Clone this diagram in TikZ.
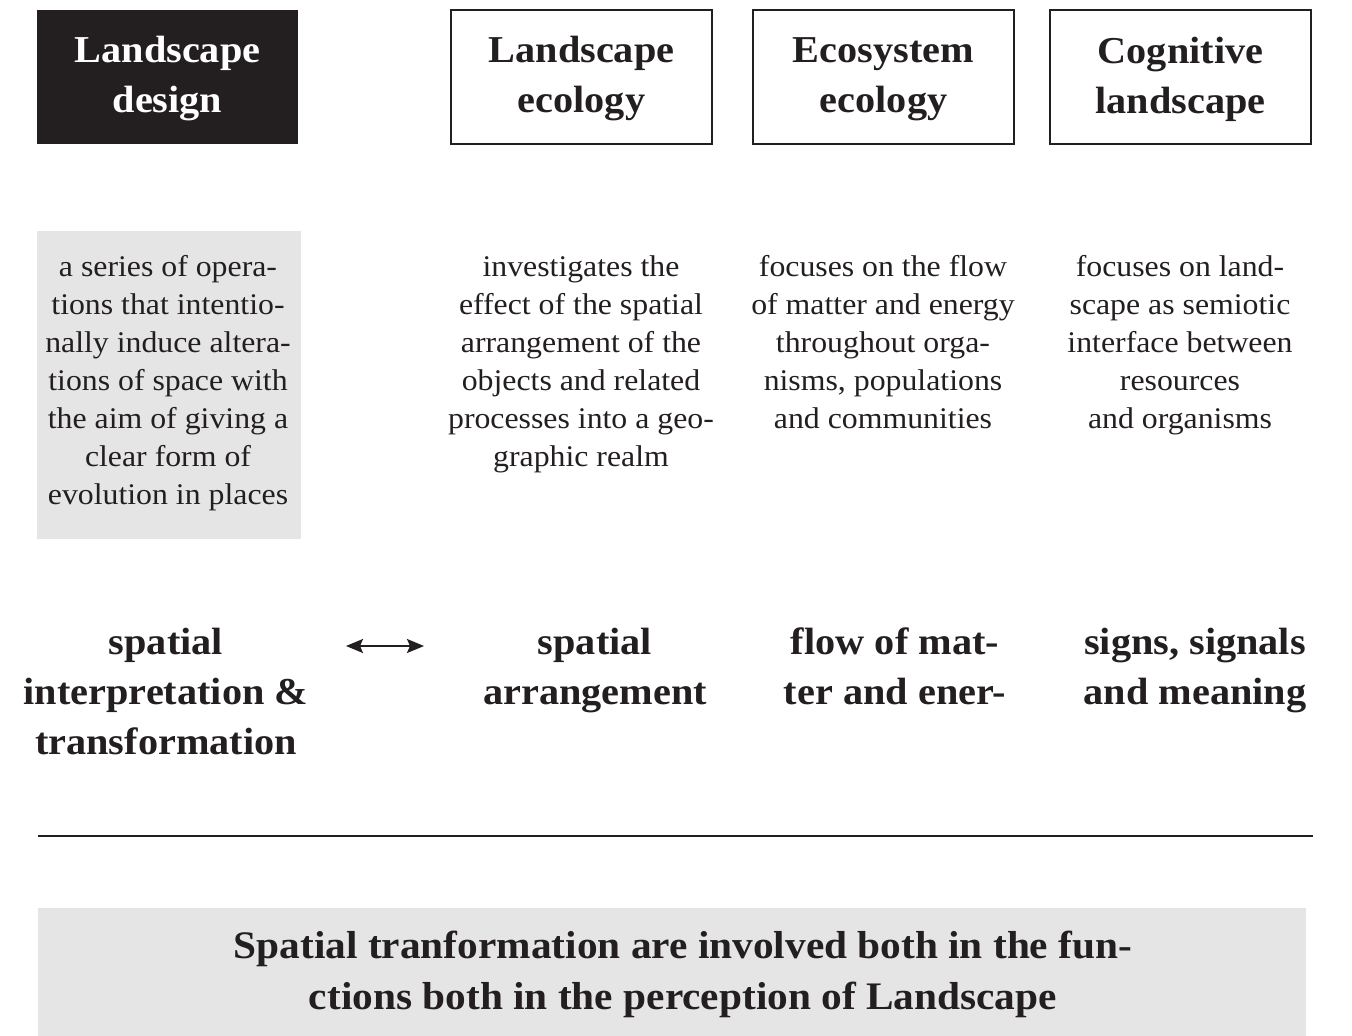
\documentclass[tikz,border=0pt]{standalone}
\usepackage{fontspec}
\setmainfont{Liberation Serif}
\newfontfamily\widefont[FakeStretch=1.06]{Liberation Serif}
\usetikzlibrary{arrows.meta}
\definecolor{ink}{HTML}{231F20}
\definecolor{panel}{HTML}{E5E5E5}
\begin{document}
\begin{tikzpicture}[x=1pt,y=-1pt,
  headframe/.style={minimum width=261pt,minimum height=134pt,inner sep=0pt},
  headtext/.style={align=center,inner sep=0pt,font=\widefont\fontsize{38}{50}\selectfont\bfseries,text=ink},
  desc/.style={align=center,inner sep=0pt,font=\widefont\fontsize{30}{38}\selectfont,text=ink},
  key/.style={align=center,inner sep=0pt,font=\widefont\fontsize{38}{50}\selectfont\bfseries,text=ink},
  line/.style={ink,line width=1.4pt},
  twoway/.style={ink,line width=1.6pt,>={Stealth[length=17pt,width=14pt,inset=3pt]},<->}]
\useasboundingbox (0,0) rectangle (1352,1036);
% headers
\node[headframe,fill=ink] (h1) at (167.5,77) {};
\node[headframe,draw=ink,line width=1.5pt] (h2) at (581.5,77) {};
\node[headframe,draw=ink,line width=1.5pt] (h3) at (883.5,77) {};
\node[headframe,draw=ink,line width=1.5pt] (h4) at (1180.5,77) {};
\node[headtext,text=white] (t1) at (167.5,79) {Landscape\\design};
\node[headtext] (t2) at (581.5,79) {Landscape\\ecology};
\node[headtext] (t3) at (883.5,79) {Ecosystem\\ecology};
\node[headtext] (t4) at (1180.5,79) {Cognitive\\landscape};
% description panel
\node[fill=panel,minimum width=264pt,minimum height=308pt,inner sep=0pt] (p1) at (168.5,385) {};
\node[desc,anchor=north] (d1) at (168,255) {a series of opera-\\tions that intentio-\\nally induce altera-\\tions of space with\\the aim of giving a\\clear form of\\evolution in places};
\node[desc,anchor=north] (d2) at (581,255) {investigates the\\effect of the spatial\\arrangement of the\\objects and related\\processes into a geo-\\graphic realm};
\node[desc,anchor=north] (d3) at (883,255) {focuses on the flow\\of matter and energy\\throughout orga-\\nisms, populations\\and communities};
\node[desc,anchor=north] (d4) at (1180,255) {focuses on land-\\scape as semiotic\\interface between\\resources\\and organisms};
% key concepts
\node[key,anchor=north] (k1) at (166,628) {spatial\\interpretation \&\\transformation};
\node[key,anchor=north] (k2) at (595,628) {spatial\\arrangement};
\node[key,anchor=north] (k3) at (895,628) {flow of mat-\\ter and ener-};
\node[key,anchor=north] (k4) at (1195,628) {signs, signals\\and meaning};
\coordinate (a1) at (346,646);
\coordinate (a2) at (424,646);
\draw[twoway] (a1) -- (a2);
% separator
\coordinate (s1) at (38,836);
\coordinate (s2) at (1313,836);
\draw[line] (s1) -- (s2);
% conclusion
\node[fill=panel,minimum width=1268pt,minimum height=128pt,inner sep=0pt] (c) at (672,972) {};
\node[key,font=\widefont\fontsize{39}{51}\selectfont\bfseries] (ct) at (683,974) {Spatial tranformation are involved both in the fun-\\ctions both in the perception of Landscape};
\end{tikzpicture}
\end{document}
